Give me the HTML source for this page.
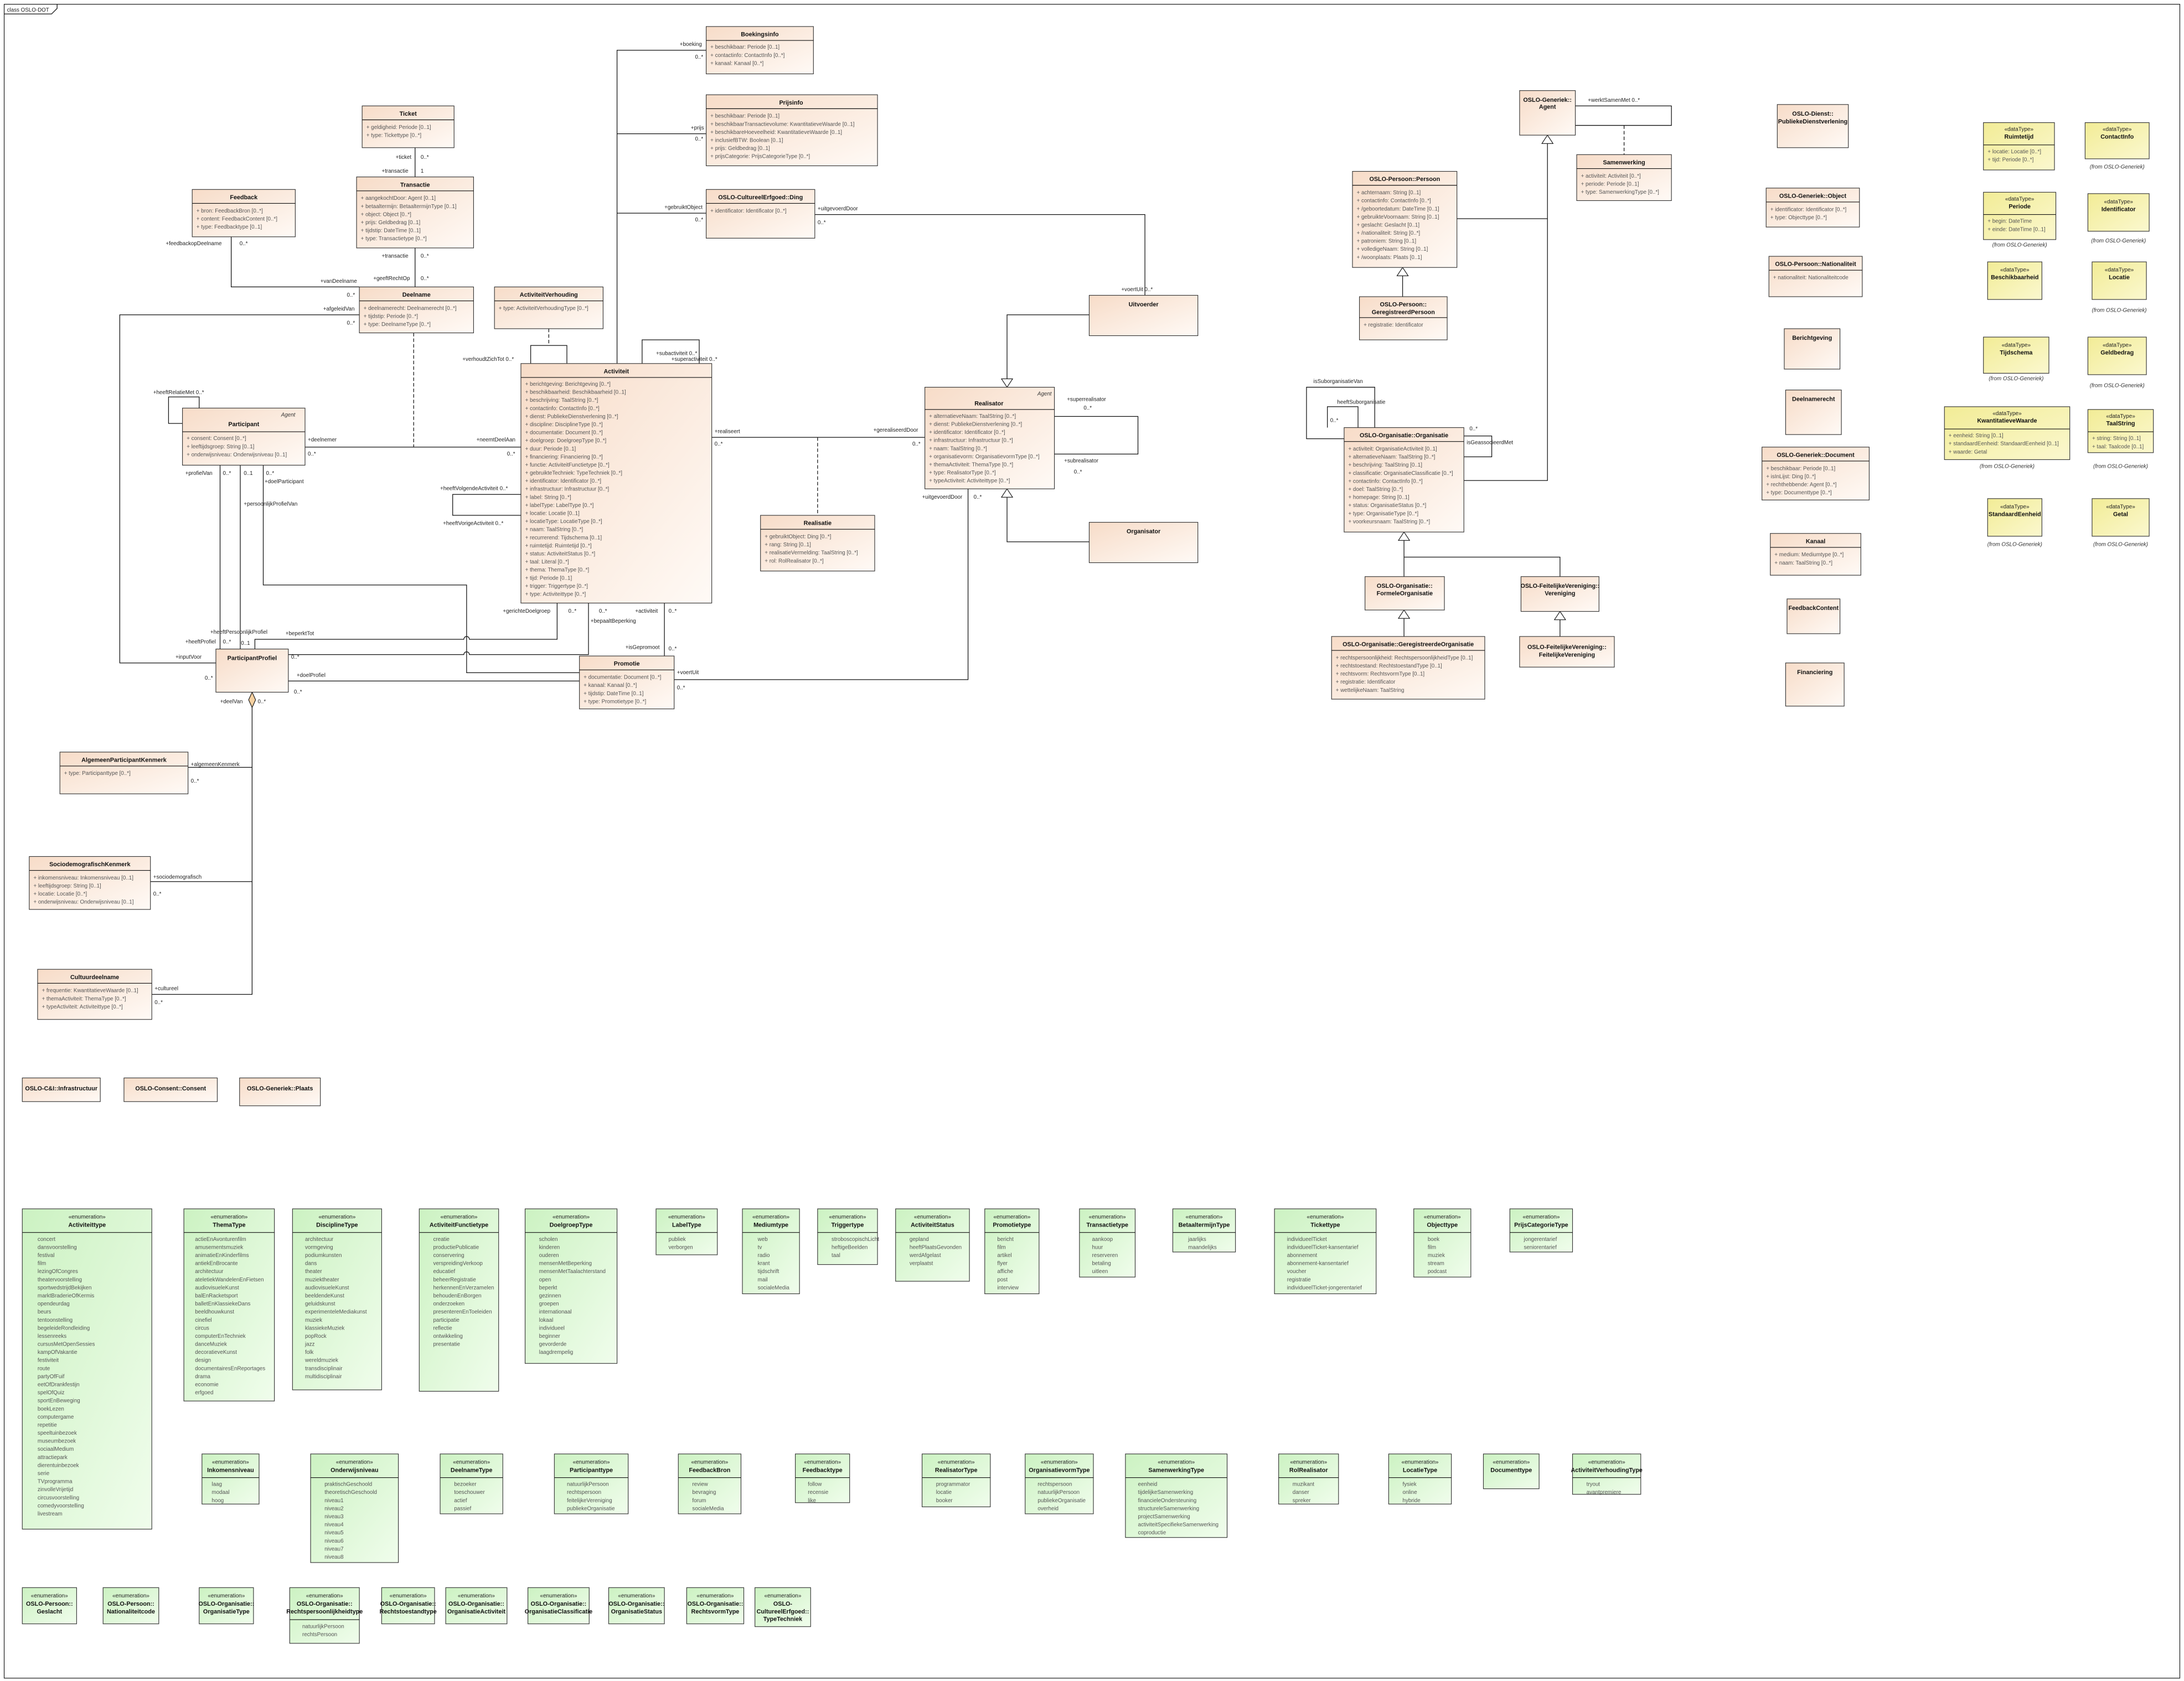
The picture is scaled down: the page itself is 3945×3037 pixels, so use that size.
<!DOCTYPE html>
<html><head><meta charset="utf-8"><style>
html,body{margin:0;padding:0;background:#fff}
svg{display:block}
.t{font:bold 4.3px "Liberation Sans",sans-serif;fill:#111;text-anchor:middle}
.s{font:4px "Liberation Sans",sans-serif;fill:#222;text-anchor:middle}
.a{font:3.9px "Liberation Sans",sans-serif;fill:#555}
.l{font:3.9px "Liberation Sans",sans-serif;fill:#222}
.f{font:italic 3.9px "Liberation Sans",sans-serif;fill:#333;text-anchor:middle}
.P{fill:url(#gP);stroke:#333;stroke-width:.45}
.G{fill:url(#gG);stroke:#333;stroke-width:.45}
.Y{fill:url(#gY);stroke:#333;stroke-width:.45}
.c{fill:none;stroke:#111;stroke-width:.5}
.d{fill:none;stroke:#111;stroke-width:.5;stroke-dasharray:2.5 1.5}
.h{stroke:#111;stroke-width:.45}
</style></head><body>
<svg width="3945" height="3037" viewBox="0 0 1568 1207" xmlns="http://www.w3.org/2000/svg">
<defs>
<linearGradient id="gP" x1="0" y1="0" x2="1" y2="1"><stop offset="0" stop-color="#f7dcc8"/><stop offset="1" stop-color="#fffaf6"/></linearGradient>
<linearGradient id="gG" x1="0" y1="0" x2="1" y2="1"><stop offset="0" stop-color="#ccf2c2"/><stop offset="1" stop-color="#f0fdec"/></linearGradient>
<linearGradient id="gY" x1="0" y1="0" x2="1" y2="1"><stop offset="0" stop-color="#f2ec96"/><stop offset="1" stop-color="#fbf8cf"/></linearGradient>
</defs>
<rect x="0" y="0" width="1568" height="1207" fill="#fff"/>
<!-- frame -->
<rect x="3" y="3" width="1562" height="1202" fill="none" stroke="#222" stroke-width=".5"/>
<path d="M3 10 H37 L41 6 V3" class="c"/>
<text class="l" x="5" y="8.3">class OSLO-DOT</text>

<!-- ===== connectors ===== -->
<path d="M443 261 V36 H507 M443 96 H507 M443 153 H507" class="c"/>
<text class="l" x="488" y="33">+boeking</text><text class="l" x="499" y="42">0..*</text>
<text class="l" x="496" y="93">+prijs</text><text class="l" x="499" y="101">0..*</text>
<text class="l" x="477" y="150">+gebruiktObject</text><text class="l" x="499" y="159">0..*</text>
<path d="M585 154 H822 V212" class="c"/>
<text class="l" x="587" y="151">+uitgevoerdDoor</text><text class="l" x="587" y="161">0..*</text>
<text class="l" x="805" y="209">+voertUit 0..*</text>
<path d="M782 226 H723 V272" class="c"/><path d="M723 278 L719 272 H727 Z" fill="#fff" class="h"/>
<path d="M782 389 H723 V357" class="c"/><path d="M723 351 L719 357 H727 Z" fill="#fff" class="h"/>
<!-- sub/super activiteit loop -->
<path d="M461 261 V244 H502 V261" class="c"/>
<text class="l" x="471" y="255">+subactiviteit 0..*</text><text class="l" x="482" y="259">+superactiviteit 0..*</text>
<!-- verhouding -->
<path d="M381 261 V248 H407 V261" class="c"/><path d="M394 236 V248" class="d"/>
<text class="l" x="332" y="259">+verhoudtZichTot 0..*</text>
<!-- Ticket/Transactie/Deelname -->
<path d="M298 106 V127 M298 178 V206" class="c"/>
<text class="l" x="284" y="114">+ticket</text><text class="l" x="302" y="114">0..*</text>
<text class="l" x="274" y="124">+transactie</text><text class="l" x="302" y="124">1</text>
<text class="l" x="274" y="185">+transactie</text><text class="l" x="302" y="185">0..*</text>
<text class="l" x="268" y="201">+geeftRechtOp</text><text class="l" x="302" y="201">0..*</text>
<path d="M166 170 V206 H258" class="c"/>
<text class="l" x="119" y="176">+feedbackopDeelname</text><text class="l" x="172" y="176">0..*</text>
<text class="l" x="230" y="203">+vanDeelname</text><text class="l" x="249" y="213">0..*</text>
<path d="M258 226 H86 V476 H155" class="c"/>
<text class="l" x="232" y="223">+afgeleidVan</text><text class="l" x="249" y="233">0..*</text>
<text class="l" x="126" y="473">+inputVoor</text><text class="l" x="147" y="488">0..*</text>
<!-- Participant - Activiteit -->
<path d="M219 321 H374" class="c"/><path d="M297 239 V321" class="d"/>
<text class="l" x="221" y="317">+deelnemer</text><text class="l" x="221" y="327">0..*</text>
<text class="l" x="342" y="317">+neemtDeelAan</text><text class="l" x="364" y="327">0..*</text>
<path d="M143 293 V285 H121 V304 H131" class="c"/>
<text class="l" x="110" y="283">+heeftRelatieMet 0..*</text>
<!-- Participant to PP -->
<path d="M158 334 V466 M172.5 334 V466" class="c"/>
<path d="M189 334 V420 H335 V483 H416" class="c"/>
<text class="l" x="133" y="341">+profielVan</text><text class="l" x="160" y="341">0..*</text><text class="l" x="175" y="341">0..1</text><text class="l" x="191" y="341">0..*</text>
<text class="l" x="190" y="347">+doelParticipant</text><text class="l" x="175" y="363">+persoonlijkProfielVan</text>
<text class="l" x="151" y="455">+heeftPersoonlijkProfiel</text><text class="l" x="133" y="462">+heeftProfiel</text>
<text class="l" x="160" y="462">0..*</text><text class="l" x="173" y="463">0..1</text>
<path d="M400 433 V459 H337 A2 2 0 0 0 333 459 H183 V466" class="c"/>
<text class="l" x="205" y="456">+beperktTot</text>
<path d="M422.5 433 V470 H337 A2 2 0 0 0 333 470 H207" class="c"/>
<text class="l" x="209" y="473">0..*</text>
<text class="l" x="361" y="440">+gerichteDoelgroep</text><text class="l" x="408" y="440">0..*</text>
<text class="l" x="430" y="440">0..*</text><text class="l" x="424" y="447">+bepaaltBeperking</text>
<path d="M477 433 V471" class="c"/>
<text class="l" x="456" y="440">+activiteit</text><text class="l" x="480" y="440">0..*</text>
<text class="l" x="449" y="466">+isGepromoot</text><text class="l" x="480" y="467">0..*</text>
<path d="M207 489 H416" class="c"/>
<text class="l" x="213" y="486">+doelProfiel</text><text class="l" x="211" y="498">0..*</text>
<path d="M484 488 H695 V351" class="c"/>
<text class="l" x="486" y="484">+voertUit</text><text class="l" x="486" y="495">0..*</text>
<text class="l" x="662" y="358">+uitgevoerdDoor</text><text class="l" x="699" y="358">0..*</text>
<path d="M374 355 H325 V370 H374" class="c"/>
<text class="l" x="316" y="352">+heeftVolgendeActiviteit 0..*</text><text class="l" x="318" y="377">+heeftVorigeActiviteit 0..*</text>
<!-- aggregation -->
<path d="M181 508 V714 H109 M181 551 H135 M181 633 H108" class="c"/>
<path d="M181 497 L178.5 502.5 L181 508 L183.5 502.5 Z" fill="#f5d0a0" class="h"/>
<text class="l" x="158" y="505">+deelVan</text><text class="l" x="185" y="505">0..*</text>
<text class="l" x="137" y="550">+algemeenKenmerk</text><text class="l" x="137" y="562">0..*</text>
<text class="l" x="110" y="631">+sociodemografisch</text><text class="l" x="110" y="643">0..*</text>
<text class="l" x="111" y="711">+cultureel</text><text class="l" x="111" y="721">0..*</text>
<!-- realiseert -->
<path d="M511 314 H664" class="c"/><path d="M587 314 V370" class="d"/>
<text class="l" x="513" y="311">+realiseert</text><text class="l" x="513" y="320">0..*</text>
<text class="l" x="627" y="310">+gerealiseerdDoor</text><text class="l" x="655" y="320">0..*</text>
<path d="M757 299 H817 V326 H757" class="c"/>
<text class="l" x="766" y="288">+superrealisator</text><text class="l" x="778" y="294">0..*</text>
<text class="l" x="764" y="332">+subrealisator</text><text class="l" x="771" y="340">0..*</text>
<!-- right side -->
<path d="M1046 157 H1111 V103 M1051 345 H1111 V157" class="c"/><path d="M1111 97 L1107 103 H1115 Z" fill="#fff" class="h"/>
<path d="M1131 76 H1200 V90 H1131" class="c"/><path d="M1166 90 V111" class="d"/>
<text class="l" x="1140" y="73">+werktSamenMet 0..*</text>
<path d="M1007 213 V198" class="c"/><path d="M1007 192 L1003 198 H1011 Z" fill="#fff" class="h"/>
<path d="M965 315 H938 V278 H987 V307 M953 307 V292 H975 V307" class="c"/>
<text class="l" x="943" y="275">isSuborganisatieVan</text><text class="l" x="960" y="290">heeftSuborganisatie</text><text class="l" x="955" y="303">0..*</text>
<path d="M1051 313 H1071 V328 H1051" class="c"/>
<text class="l" x="1055" y="309">0..*</text><text class="l" x="1053" y="319">isGeassocieerdMet</text>
<path d="M1008 414 V388 M1120 414 V400 H1008" class="c"/><path d="M1008 382 L1004 388 H1012 Z" fill="#fff" class="h"/>
<path d="M1008 457 V444" class="c"/><path d="M1008 438 L1004 444 H1012 Z" fill="#fff" class="h"/>
<path d="M1120 457 V445" class="c"/><path d="M1120 439 L1116 445 H1124 Z" fill="#fff" class="h"/>

<!-- ===== classes ===== -->
<rect x="507" y="19" width="77" height="34" class="P"/><line x1="507" y1="29" x2="584" y2="29" class="h"/>
<text class="t" x="545.5" y="26">Boekingsinfo</text>
<text class="a"><tspan x="510" y="35">+   beschikbaar: Periode [0..1]</tspan><tspan x="510" dy="5.8">+   contactinfo: ContactInfo [0..*]</tspan><tspan x="510" dy="5.8">+   kanaal: Kanaal [0..*]</tspan></text>

<rect x="507" y="68" width="123" height="51" class="P"/><line x1="507" y1="78" x2="630" y2="78" class="h"/>
<text class="t" x="568" y="75">Prijsinfo</text>
<text class="a"><tspan x="510" y="84.5">+   beschikbaar: Periode [0..1]</tspan><tspan x="510" dy="5.8">+   beschikbaarTransactievolume: KwantitatieveWaarde [0..1]</tspan><tspan x="510" dy="5.8">+   beschikbareHoeveelheid: KwantitatieveWaarde [0..1]</tspan><tspan x="510" dy="5.8">+   inclusiefBTW: Boolean [0..1]</tspan><tspan x="510" dy="5.8">+   prijs: Geldbedrag [0..1]</tspan><tspan x="510" dy="5.8">+   prijsCategorie: PrijsCategorieType [0..*]</tspan></text>

<rect x="507" y="136" width="78" height="35" class="P"/><line x1="507" y1="146" x2="585" y2="146" class="h"/>
<text class="t" x="546" y="143">OSLO-CultureelErfgoed::Ding</text>
<text class="a"><tspan x="510" y="152.5">+   identificator: Identificator [0..*]</tspan></text>

<rect x="260" y="76" width="66" height="30" class="P"/><line x1="260" y1="86" x2="326" y2="86" class="h"/>
<text class="t" x="293" y="83">Ticket</text>
<text class="a"><tspan x="263" y="92.5">+   geldigheid: Periode [0..1]</tspan><tspan x="263" dy="5.8">+   type: Tickettype [0..*]</tspan></text>

<rect x="256" y="127" width="84" height="51" class="P"/><line x1="256" y1="137" x2="340" y2="137" class="h"/>
<text class="t" x="298" y="134">Transactie</text>
<text class="a"><tspan x="259" y="143.5">+   aangekochtDoor: Agent [0..1]</tspan><tspan x="259" dy="5.8">+   betaaltermijn: BetaaltermijnType [0..1]</tspan><tspan x="259" dy="5.8">+   object: Object [0..*]</tspan><tspan x="259" dy="5.8">+   prijs: Geldbedrag [0..1]</tspan><tspan x="259" dy="5.8">+   tijdstip: DateTime [0..1]</tspan><tspan x="259" dy="5.8">+   type: Transactietype [0..*]</tspan></text>

<rect x="138" y="136" width="74" height="34" class="P"/><line x1="138" y1="146" x2="212" y2="146" class="h"/>
<text class="t" x="175" y="143">Feedback</text>
<text class="a"><tspan x="141" y="152.5">+   bron: FeedbackBron [0..*]</tspan><tspan x="141" dy="5.8">+   content: FeedbackContent [0..*]</tspan><tspan x="141" dy="5.8">+   type: Feedbacktype [0..1]</tspan></text>

<rect x="258" y="206" width="82" height="33" class="P"/><line x1="258" y1="216" x2="340" y2="216" class="h"/>
<text class="t" x="299" y="213">Deelname</text>
<text class="a"><tspan x="261" y="222.5">+   deelnamerecht: Deelnamerecht [0..*]</tspan><tspan x="261" dy="5.8">+   tijdstip: Periode [0..*]</tspan><tspan x="261" dy="5.8">+   type: DeelnameType [0..*]</tspan></text>

<rect x="355" y="206" width="78" height="30" class="P"/><line x1="355" y1="216" x2="433" y2="216" class="h"/>
<text class="t" x="394" y="213">ActiviteitVerhouding</text>
<text class="a"><tspan x="358" y="222.5">+   type: ActiviteitVerhoudingType [0..*]</tspan></text>

<rect x="374" y="261" width="137" height="172" class="P"/><line x1="374" y1="271" x2="511" y2="271" class="h"/>
<text class="t" x="442.5" y="268">Activiteit</text>
<text class="a"><tspan x="377" y="277">+   berichtgeving: Berichtgeving [0..*]</tspan><tspan x="377" dy="5.8">+   beschikbaarheid: Beschikbaarheid [0..1]</tspan><tspan x="377" dy="5.8">+   beschrijving: TaalString [0..*]</tspan><tspan x="377" dy="5.8">+   contactinfo: ContactInfo [0..*]</tspan><tspan x="377" dy="5.8">+   dienst: PubliekeDienstverlening [0..*]</tspan><tspan x="377" dy="5.8">+   discipline: DisciplineType [0..*]</tspan><tspan x="377" dy="5.8">+   documentatie: Document [0..*]</tspan><tspan x="377" dy="5.8">+   doelgroep: DoelgroepType [0..*]</tspan><tspan x="377" dy="5.8">+   duur: Periode [0..1]</tspan><tspan x="377" dy="5.8">+   financiering: Financiering [0..*]</tspan><tspan x="377" dy="5.8">+   functie: ActiviteitFunctietype [0..*]</tspan><tspan x="377" dy="5.8">+   gebruikteTechniek: TypeTechniek [0..*]</tspan><tspan x="377" dy="5.8">+   identificator: Identificator [0..*]</tspan><tspan x="377" dy="5.8">+   infrastructuur: Infrastructuur [0..*]</tspan><tspan x="377" dy="5.8">+   label: String [0..*]</tspan><tspan x="377" dy="5.8">+   labelType: LabelType [0..*]</tspan><tspan x="377" dy="5.8">+   locatie: Locatie [0..1]</tspan><tspan x="377" dy="5.8">+   locatieType: LocatieType [0..*]</tspan><tspan x="377" dy="5.8">+   naam: TaalString [0..*]</tspan><tspan x="377" dy="5.8">+   recurrerend: Tijdschema [0..1]</tspan><tspan x="377" dy="5.8">+   ruimtetijd: Ruimtetijd [0..*]</tspan><tspan x="377" dy="5.8">+   status: ActiviteitStatus [0..*]</tspan><tspan x="377" dy="5.8">+   taal: Literal [0..*]</tspan><tspan x="377" dy="5.8">+   thema: ThemaType [0..*]</tspan><tspan x="377" dy="5.8">+   tijd: Periode [0..1]</tspan><tspan x="377" dy="5.8">+   trigger: Triggertype [0..*]</tspan><tspan x="377" dy="5.8">+   type: Activiteittype [0..*]</tspan></text>

<rect x="131" y="293" width="88" height="41" class="P"/><line x1="131" y1="310" x2="219" y2="310" class="h"/>
<text class="f" x="212" y="299" style="text-anchor:end">Agent</text>
<text class="t" x="175" y="306">Participant</text>
<text class="a"><tspan x="134" y="316">+   consent: Consent [0..*]</tspan><tspan x="134" dy="5.8">+   leeftijdsgroep: String [0..1]</tspan><tspan x="134" dy="5.8">+   onderwijsniveau: Onderwijsniveau [0..1]</tspan></text>

<rect x="664" y="278" width="93" height="73" class="P"/><line x1="664" y1="294" x2="757" y2="294" class="h"/>
<text class="f" x="755" y="284" style="text-anchor:end">Agent</text>
<text class="t" x="710" y="291">Realisator</text>
<text class="a"><tspan x="667" y="300">+   alternatieveNaam: TaalString [0..*]</tspan><tspan x="667" dy="5.8">+   dienst: PubliekeDienstverlening [0..*]</tspan><tspan x="667" dy="5.8">+   identificator: Identificator [0..*]</tspan><tspan x="667" dy="5.8">+   infrastructuur: Infrastructuur [0..*]</tspan><tspan x="667" dy="5.8">+   naam: TaalString [0..*]</tspan><tspan x="667" dy="5.8">+   organisatievorm: OrganisatievormType [0..*]</tspan><tspan x="667" dy="5.8">+   themaActiviteit: ThemaType [0..*]</tspan><tspan x="667" dy="5.8">+   type: RealisatorType [0..*]</tspan><tspan x="667" dy="5.8">+   typeActiviteit: Activiteittype [0..*]</tspan></text>

<rect x="782" y="212" width="78" height="29" class="P"/><text class="t" x="821" y="220">Uitvoerder</text>
<rect x="782" y="375" width="78" height="29" class="P"/><text class="t" x="821" y="383">Organisator</text>

<rect x="546" y="370" width="82" height="40" class="P"/><line x1="546" y1="380" x2="628" y2="380" class="h"/>
<text class="t" x="587" y="377">Realisatie</text>
<text class="a"><tspan x="549" y="386.5">+   gebruiktObject: Ding [0..*]</tspan><tspan x="549" dy="5.8">+   rang: String [0..1]</tspan><tspan x="549" dy="5.8">+   realisatieVermelding: TaalString [0..*]</tspan><tspan x="549" dy="5.8">+   rol: RolRealisator [0..*]</tspan></text>

<rect x="155" y="466" width="52" height="31" class="P"/><text class="t" x="181" y="474">ParticipantProfiel</text>

<rect x="416" y="471" width="68" height="38" class="P"/><line x1="416" y1="481" x2="484" y2="481" class="h"/>
<text class="t" x="450" y="478">Promotie</text>
<text class="a"><tspan x="419" y="487.5">+   documentatie: Document [0..*]</tspan><tspan x="419" dy="5.8">+   kanaal: Kanaal [0..*]</tspan><tspan x="419" dy="5.8">+   tijdstip: DateTime [0..1]</tspan><tspan x="419" dy="5.8">+   type: Promotietype [0..*]</tspan></text>

<rect x="43" y="540" width="92" height="30" class="P"/><line x1="43" y1="550" x2="135" y2="550" class="h"/>
<text class="t" x="89" y="547">AlgemeenParticipantKenmerk</text>
<text class="a"><tspan x="46" y="556.5">+   type: Participanttype [0..*]</tspan></text>

<rect x="21" y="615" width="87" height="38" class="P"/><line x1="21" y1="625" x2="108" y2="625" class="h"/>
<text class="t" x="64.5" y="622">SociodemografischKenmerk</text>
<text class="a"><tspan x="24" y="631.5">+   inkomensniveau: Inkomensniveau [0..1]</tspan><tspan x="24" dy="5.8">+   leeftijdsgroep: String [0..1]</tspan><tspan x="24" dy="5.8">+   locatie: Locatie [0..*]</tspan><tspan x="24" dy="5.8">+   onderwijsniveau: Onderwijsniveau [0..1]</tspan></text>

<rect x="27" y="696" width="82" height="36" class="P"/><line x1="27" y1="706" x2="109" y2="706" class="h"/>
<text class="t" x="68" y="703">Cultuurdeelname</text>
<text class="a"><tspan x="30" y="712.5">+   frequentie: KwantitatieveWaarde [0..1]</tspan><tspan x="30" dy="5.8">+   themaActiviteit: ThemaType [0..*]</tspan><tspan x="30" dy="5.8">+   typeActiviteit: Activiteittype [0..*]</tspan></text>

<rect x="16" y="774" width="56" height="17" class="P"/><text class="t" x="44" y="783">OSLO-C&amp;I::Infrastructuur</text>
<rect x="89" y="774" width="67" height="17" class="P"/><text class="t" x="122.5" y="783">OSLO-Consent::Consent</text>
<rect x="172" y="774" width="58" height="20" class="P"/><text class="t" x="201" y="783">OSLO-Generiek::Plaats</text>

<!-- right classes -->
<rect x="1091" y="65" width="40" height="32" class="P"/><text class="t" x="1111" y="73">OSLO-Generiek::</text><text class="t" x="1111" y="78">Agent</text>
<rect x="1132" y="111" width="68" height="33" class="P"/><line x1="1132" y1="121" x2="1200" y2="121" class="h"/>
<text class="t" x="1166" y="118">Samenwerking</text>
<text class="a"><tspan x="1135" y="127.5">+   activiteit: Activiteit [0..*]</tspan><tspan x="1135" dy="5.8">+   periode: Periode [0..1]</tspan><tspan x="1135" dy="5.8">+   type: SamenwerkingType [0..*]</tspan></text>

<rect x="971" y="123" width="75" height="69" class="P"/><line x1="971" y1="133" x2="1046" y2="133" class="h"/>
<text class="t" x="1008.5" y="130">OSLO-Persoon::Persoon</text>
<text class="a"><tspan x="974" y="139.5">+   achternaam: String [0..1]</tspan><tspan x="974" dy="5.8">+   contactinfo: ContactInfo [0..*]</tspan><tspan x="974" dy="5.8">+   /geboortedatum: DateTime [0..1]</tspan><tspan x="974" dy="5.8">+   gebruikteVoornaam: String [0..1]</tspan><tspan x="974" dy="5.8">+   geslacht: Geslacht [0..1]</tspan><tspan x="974" dy="5.8">+   /nationaliteit: String [0..*]</tspan><tspan x="974" dy="5.8">+   patroniem: String [0..1]</tspan><tspan x="974" dy="5.8">+   volledigeNaam: String [0..1]</tspan><tspan x="974" dy="5.8">+   /woonplaats: Plaats [0..1]</tspan></text>

<rect x="976" y="213" width="63" height="31" class="P"/><line x1="976" y1="228" x2="1039" y2="228" class="h"/>
<text class="t" x="1007.5" y="220">OSLO-Persoon::</text><text class="t" x="1007.5" y="225.5">GeregistreerdPersoon</text>
<text class="a"><tspan x="979" y="234.5">+   registratie: Identificator</tspan></text>

<rect x="965" y="307" width="86" height="75" class="P"/><line x1="965" y1="317" x2="1051" y2="317" class="h"/>
<text class="t" x="1008" y="314">OSLO-Organisatie::Organisatie</text>
<text class="a"><tspan x="968" y="323.5">+   activiteit: OrganisatieActiviteit [0..1]</tspan><tspan x="968" dy="5.8">+   alternatieveNaam: TaalString [0..*]</tspan><tspan x="968" dy="5.8">+   beschrijving: TaalString [0..1]</tspan><tspan x="968" dy="5.8">+   classificatie: OrganisatieClassificatie [0..*]</tspan><tspan x="968" dy="5.8">+   contactinfo: ContactInfo [0..*]</tspan><tspan x="968" dy="5.8">+   doel: TaalString [0..*]</tspan><tspan x="968" dy="5.8">+   homepage: String [0..1]</tspan><tspan x="968" dy="5.8">+   status: OrganisatieStatus [0..*]</tspan><tspan x="968" dy="5.8">+   type: OrganisatieType [0..*]</tspan><tspan x="968" dy="5.8">+   voorkeursnaam: TaalString [0..*]</tspan></text>

<rect x="980" y="414" width="57" height="24" class="P"/><text class="t" x="1008.5" y="422">OSLO-Organisatie::</text><text class="t" x="1008.5" y="427.5">FormeleOrganisatie</text>
<rect x="1092" y="414" width="56" height="25" class="P"/><text class="t" x="1120" y="422">OSLO-FeitelijkeVereniging::</text><text class="t" x="1120" y="427.5">Vereniging</text>
<rect x="956" y="457" width="110" height="45" class="P"/><line x1="956" y1="467" x2="1066" y2="467" class="h"/>
<text class="t" x="1011" y="464">OSLO-Organisatie::GeregistreerdeOrganisatie</text>
<text class="a"><tspan x="959" y="473.5">+   rechtspersoonlijkheid: RechtspersoonlijkheidType [0..1]</tspan><tspan x="959" dy="5.8">+   rechtstoestand: RechtstoestandType [0..1]</tspan><tspan x="959" dy="5.8">+   rechtsvorm: RechtsvormType [0..1]</tspan><tspan x="959" dy="5.8">+   registratie: Identificator</tspan><tspan x="959" dy="5.8">+   wettelijkeNaam: TaalString</tspan></text>
<rect x="1091" y="457" width="68" height="22" class="P"/><text class="t" x="1125" y="466">OSLO-FeitelijkeVereniging::</text><text class="t" x="1125" y="471.5">FeitelijkeVereniging</text>

<rect x="1276" y="75" width="51" height="31" class="P"/><text class="t" x="1301.5" y="83">OSLO-Dienst::</text><text class="t" x="1301.5" y="88.5">PubliekeDienstverlening</text>
<rect x="1268" y="135" width="67" height="28" class="P"/><line x1="1268" y1="145" x2="1335" y2="145" class="h"/>
<text class="t" x="1301.5" y="142">OSLO-Generiek::Object</text>
<text class="a"><tspan x="1271" y="151.5">+   identificator: Identificator [0..*]</tspan><tspan x="1271" dy="5.8">+   type: Objecttype [0..*]</tspan></text>
<rect x="1270" y="184" width="67" height="29" class="P"/><line x1="1270" y1="194" x2="1337" y2="194" class="h"/>
<text class="t" x="1303.5" y="191">OSLO-Persoon::Nationaliteit</text>
<text class="a"><tspan x="1273" y="200.5">+   nationaliteit: Nationaliteitcode</tspan></text>
<rect x="1281" y="236" width="40" height="29" class="P"/><text class="t" x="1301" y="244">Berichtgeving</text>
<rect x="1282" y="280" width="40" height="32" class="P"/><text class="t" x="1302" y="288">Deelnamerecht</text>
<rect x="1265" y="321" width="77" height="38" class="P"/><line x1="1265" y1="331" x2="1342" y2="331" class="h"/>
<text class="t" x="1303.5" y="328">OSLO-Generiek::Document</text>
<text class="a"><tspan x="1268" y="337.5">+   beschikbaar: Periode [0..1]</tspan><tspan x="1268" dy="5.8">+   isInLijst: Ding [0..*]</tspan><tspan x="1268" dy="5.8">+   rechthebbende: Agent [0..*]</tspan><tspan x="1268" dy="5.8">+   type: Documenttype [0..*]</tspan></text>
<rect x="1271" y="383" width="65" height="30" class="P"/><line x1="1271" y1="393" x2="1336" y2="393" class="h"/>
<text class="t" x="1303.5" y="390">Kanaal</text>
<text class="a"><tspan x="1274" y="399.5">+   medium: Mediumtype [0..*]</tspan><tspan x="1274" dy="5.8">+   naam: TaalString [0..*]</tspan></text>
<rect x="1283" y="430" width="38" height="25" class="P"/><text class="t" x="1302" y="438">FeedbackContent</text>
<rect x="1282" y="476" width="42" height="31" class="P"/><text class="t" x="1303" y="484">Financiering</text>

<!-- dataTypes -->
<rect x="1424" y="88" width="51" height="34" class="Y"/><line x1="1424" y1="104" x2="1475" y2="104" class="h"/>
<text class="s" x="1449.5" y="94">«dataType»</text><text class="t" x="1449.5" y="99.5">Ruimtetijd</text>
<text class="a"><tspan x="1427" y="110">+   locatie: Locatie [0..*]</tspan><tspan x="1427" dy="5.8">+   tijd: Periode [0..*]</tspan></text>
<rect x="1497" y="88" width="46" height="26" class="Y"/><text class="s" x="1520" y="94">«dataType»</text><text class="t" x="1520" y="99.5">ContactInfo</text>
<text class="f" x="1520" y="121">(from OSLO-Generiek)</text>
<rect x="1424" y="138" width="52" height="34" class="Y"/><line x1="1424" y1="154" x2="1476" y2="154" class="h"/>
<text class="s" x="1450" y="144">«dataType»</text><text class="t" x="1450" y="149.5">Periode</text>
<text class="a"><tspan x="1427" y="160">+   begin: DateTime</tspan><tspan x="1427" dy="5.8">+   einde: DateTime [0..1]</tspan></text>
<text class="f" x="1450" y="177">(from OSLO-Generiek)</text>
<rect x="1499" y="139" width="44" height="27" class="Y"/><text class="s" x="1521" y="146">«dataType»</text><text class="t" x="1521" y="151.5">Identificator</text>
<text class="f" x="1521" y="174">(from OSLO-Generiek)</text>
<rect x="1427" y="188" width="39" height="27" class="Y"/><text class="s" x="1446.5" y="195">«dataType»</text><text class="t" x="1446.5" y="200.5">Beschikbaarheid</text>
<rect x="1502" y="188" width="39" height="27" class="Y"/><text class="s" x="1521.5" y="195">«dataType»</text><text class="t" x="1521.5" y="200.5">Locatie</text>
<text class="f" x="1521.5" y="224">(from OSLO-Generiek)</text>
<rect x="1424" y="242" width="47" height="26" class="Y"/><text class="s" x="1447.5" y="249">«dataType»</text><text class="t" x="1447.5" y="254.5">Tijdschema</text>
<text class="f" x="1447.5" y="273">(from OSLO-Generiek)</text>
<rect x="1499" y="242" width="42" height="27" class="Y"/><text class="s" x="1520" y="249">«dataType»</text><text class="t" x="1520" y="254.5">Geldbedrag</text>
<text class="f" x="1520" y="278">(from OSLO-Generiek)</text>
<rect x="1396" y="292" width="90" height="38" class="Y"/><line x1="1396" y1="308" x2="1486" y2="308" class="h"/>
<text class="s" x="1441" y="298">«dataType»</text><text class="t" x="1441" y="303.5">KwantitatieveWaarde</text>
<text class="a"><tspan x="1399" y="314">+   eenheid: String [0..1]</tspan><tspan x="1399" dy="5.8">+   standaardEenheid: StandaardEenheid [0..1]</tspan><tspan x="1399" dy="5.8">+   waarde: Getal</tspan></text>
<text class="f" x="1441" y="336">(from OSLO-Generiek)</text>
<rect x="1499" y="294" width="47" height="31" class="Y"/><line x1="1499" y1="310" x2="1546" y2="310" class="h"/>
<text class="s" x="1522.5" y="300">«dataType»</text><text class="t" x="1522.5" y="305.5">TaalString</text>
<text class="a"><tspan x="1502" y="316">+   string: String [0..1]</tspan><tspan x="1502" dy="5.8">+   taal: Taalcode [0..1]</tspan></text>
<text class="f" x="1522.5" y="336">(from OSLO-Generiek)</text>
<rect x="1427" y="358" width="39" height="27" class="Y"/><text class="s" x="1446.5" y="365">«dataType»</text><text class="t" x="1446.5" y="370.5">StandaardEenheid</text>
<text class="f" x="1446.5" y="392">(from OSLO-Generiek)</text>
<rect x="1502" y="358" width="41" height="27" class="Y"/><text class="s" x="1522.5" y="365">«dataType»</text><text class="t" x="1522.5" y="370.5">Getal</text>
<text class="f" x="1522.5" y="392">(from OSLO-Generiek)</text>

<!-- ===== enumerations row 1 ===== -->
<rect x="16" y="868" width="93" height="230" class="G"/><line x1="16" y1="885" x2="109" y2="885" class="h"/>
<text class="s" x="62.5" y="875">«enumeration»</text><text class="t" x="62.5" y="881">Activiteittype</text>
<text class="a"><tspan x="27" y="891">concert</tspan><tspan x="27" dy="5.8">dansvoorstelling</tspan><tspan x="27" dy="5.8">festival</tspan><tspan x="27" dy="5.8">film</tspan><tspan x="27" dy="5.8">lezingOfCongres</tspan><tspan x="27" dy="5.8">theatervoorstelling</tspan><tspan x="27" dy="5.8">sportwedstrijdBekijken</tspan><tspan x="27" dy="5.8">marktBraderieOfKermis</tspan><tspan x="27" dy="5.8">opendeurdag</tspan><tspan x="27" dy="5.8">beurs</tspan><tspan x="27" dy="5.8">tentoonstelling</tspan><tspan x="27" dy="5.8">begeleideRondleiding</tspan><tspan x="27" dy="5.8">lessenreeks</tspan><tspan x="27" dy="5.8">cursusMetOpenSessies</tspan><tspan x="27" dy="5.8">kampOfVakantie</tspan><tspan x="27" dy="5.8">festiviteit</tspan><tspan x="27" dy="5.8">route</tspan><tspan x="27" dy="5.8">partyOfFuif</tspan><tspan x="27" dy="5.8">eetOfDrankfestijn</tspan><tspan x="27" dy="5.8">spelOfQuiz</tspan><tspan x="27" dy="5.8">sportEnBeweging</tspan><tspan x="27" dy="5.8">boekLezen</tspan><tspan x="27" dy="5.8">computergame</tspan><tspan x="27" dy="5.8">repetitie</tspan><tspan x="27" dy="5.8">speeltuinbezoek</tspan><tspan x="27" dy="5.8">museumbezoek</tspan><tspan x="27" dy="5.8">sociaalMedium</tspan><tspan x="27" dy="5.8">attractiepark</tspan><tspan x="27" dy="5.8">dierentuinbezoek</tspan><tspan x="27" dy="5.8">serie</tspan><tspan x="27" dy="5.8">TVprogramma</tspan><tspan x="27" dy="5.8">zinvolleVrijetijd</tspan><tspan x="27" dy="5.8">circusvoorstelling</tspan><tspan x="27" dy="5.8">comedyvoorstelling</tspan><tspan x="27" dy="5.8">livestream</tspan></text>

<rect x="132" y="868" width="65" height="138" class="G"/><line x1="132" y1="885" x2="197" y2="885" class="h"/>
<text class="s" x="164.5" y="875">«enumeration»</text><text class="t" x="164.5" y="881">ThemaType</text>
<text class="a"><tspan x="140" y="891">actieEnAvonturenfilm</tspan><tspan x="140" dy="5.8">amusementsmuziek</tspan><tspan x="140" dy="5.8">animatieEnKinderfilms</tspan><tspan x="140" dy="5.8">antiekEnBrocante</tspan><tspan x="140" dy="5.8">architectuur</tspan><tspan x="140" dy="5.8">ateletiekWandelenEnFietsen</tspan><tspan x="140" dy="5.8">audiovisueleKunst</tspan><tspan x="140" dy="5.8">balEnRacketsport</tspan><tspan x="140" dy="5.8">balletEnKlassiekeDans</tspan><tspan x="140" dy="5.8">beeldhouwkunst</tspan><tspan x="140" dy="5.8">cinefiel</tspan><tspan x="140" dy="5.8">circus</tspan><tspan x="140" dy="5.8">computerEnTechniek</tspan><tspan x="140" dy="5.8">danceMuziek</tspan><tspan x="140" dy="5.8">decoratieveKunst</tspan><tspan x="140" dy="5.8">design</tspan><tspan x="140" dy="5.8">documentairesEnReportages</tspan><tspan x="140" dy="5.8">drama</tspan><tspan x="140" dy="5.8">economie</tspan><tspan x="140" dy="5.8">erfgoed</tspan></text>

<rect x="210" y="868" width="64" height="130" class="G"/><line x1="210" y1="885" x2="274" y2="885" class="h"/>
<text class="s" x="242" y="875">«enumeration»</text><text class="t" x="242" y="881">DisciplineType</text>
<text class="a"><tspan x="219" y="891">architectuur</tspan><tspan x="219" dy="5.8">vormgeving</tspan><tspan x="219" dy="5.8">podiumkunsten</tspan><tspan x="219" dy="5.8">dans</tspan><tspan x="219" dy="5.8">theater</tspan><tspan x="219" dy="5.8">muziektheater</tspan><tspan x="219" dy="5.8">audiovisueleKunst</tspan><tspan x="219" dy="5.8">beeldendeKunst</tspan><tspan x="219" dy="5.8">geluidskunst</tspan><tspan x="219" dy="5.8">experimenteleMediakunst</tspan><tspan x="219" dy="5.8">muziek</tspan><tspan x="219" dy="5.8">klassiekeMuziek</tspan><tspan x="219" dy="5.8">popRock</tspan><tspan x="219" dy="5.8">jazz</tspan><tspan x="219" dy="5.8">folk</tspan><tspan x="219" dy="5.8">wereldmuziek</tspan><tspan x="219" dy="5.8">transdisciplinair</tspan><tspan x="219" dy="5.8">multidisciplinair</tspan></text>

<rect x="301" y="868" width="57" height="131" class="G"/><line x1="301" y1="885" x2="358" y2="885" class="h"/>
<text class="s" x="329.5" y="875">«enumeration»</text><text class="t" x="329.5" y="881">ActiviteitFunctietype</text>
<text class="a"><tspan x="311" y="891">creatie</tspan><tspan x="311" dy="5.8">productiePublicatie</tspan><tspan x="311" dy="5.8">conservering</tspan><tspan x="311" dy="5.8">verspreidingVerkoop</tspan><tspan x="311" dy="5.8">educatief</tspan><tspan x="311" dy="5.8">beheerRegistratie</tspan><tspan x="311" dy="5.8">herkennenEnVerzamelen</tspan><tspan x="311" dy="5.8">behoudenEnBorgen</tspan><tspan x="311" dy="5.8">onderzoeken</tspan><tspan x="311" dy="5.8">presenterenEnToeleiden</tspan><tspan x="311" dy="5.8">participatie</tspan><tspan x="311" dy="5.8">reflectie</tspan><tspan x="311" dy="5.8">ontwikkeling</tspan><tspan x="311" dy="5.8">presentatie</tspan></text>

<rect x="377" y="868" width="66" height="111" class="G"/><line x1="377" y1="885" x2="443" y2="885" class="h"/>
<text class="s" x="410" y="875">«enumeration»</text><text class="t" x="410" y="881">DoelgroepType</text>
<text class="a"><tspan x="387" y="891">scholen</tspan><tspan x="387" dy="5.8">kinderen</tspan><tspan x="387" dy="5.8">ouderen</tspan><tspan x="387" dy="5.8">mensenMetBeperking</tspan><tspan x="387" dy="5.8">mensenMetTaalachterstand</tspan><tspan x="387" dy="5.8">open</tspan><tspan x="387" dy="5.8">beperkt</tspan><tspan x="387" dy="5.8">gezinnen</tspan><tspan x="387" dy="5.8">groepen</tspan><tspan x="387" dy="5.8">internationaal</tspan><tspan x="387" dy="5.8">lokaal</tspan><tspan x="387" dy="5.8">individueel</tspan><tspan x="387" dy="5.8">beginner</tspan><tspan x="387" dy="5.8">gevorderde</tspan><tspan x="387" dy="5.8">laagdrempelig</tspan></text>

<rect x="471" y="868" width="44" height="33" class="G"/><line x1="471" y1="885" x2="515" y2="885" class="h"/>
<text class="s" x="493" y="875">«enumeration»</text><text class="t" x="493" y="881">LabelType</text>
<text class="a"><tspan x="480" y="891">publiek</tspan><tspan x="480" dy="5.8">verborgen</tspan></text>

<rect x="533" y="868" width="41" height="61" class="G"/><line x1="533" y1="885" x2="574" y2="885" class="h"/>
<text class="s" x="553.5" y="875">«enumeration»</text><text class="t" x="553.5" y="881">Mediumtype</text>
<text class="a"><tspan x="544" y="891">web</tspan><tspan x="544" dy="5.8">tv</tspan><tspan x="544" dy="5.8">radio</tspan><tspan x="544" dy="5.8">krant</tspan><tspan x="544" dy="5.8">tijdschrift</tspan><tspan x="544" dy="5.8">mail</tspan><tspan x="544" dy="5.8">socialeMedia</tspan></text>

<rect x="587" y="868" width="43" height="40" class="G"/><line x1="587" y1="885" x2="630" y2="885" class="h"/>
<text class="s" x="608.5" y="875">«enumeration»</text><text class="t" x="608.5" y="881">Triggertype</text>
<text class="a"><tspan x="597" y="891">stroboscopischLicht</tspan><tspan x="597" dy="5.8">heftigeBeelden</tspan><tspan x="597" dy="5.8">taal</tspan></text>

<rect x="643" y="868" width="53" height="52" class="G"/><line x1="643" y1="885" x2="696" y2="885" class="h"/>
<text class="s" x="669.5" y="875">«enumeration»</text><text class="t" x="669.5" y="881">ActiviteitStatus</text>
<text class="a"><tspan x="653" y="891">gepland</tspan><tspan x="653" dy="5.8">heeftPlaatsGevonden</tspan><tspan x="653" dy="5.8">werdAfgelast</tspan><tspan x="653" dy="5.8">verplaatst</tspan></text>

<rect x="707" y="868" width="39" height="61" class="G"/><line x1="707" y1="885" x2="746" y2="885" class="h"/>
<text class="s" x="726.5" y="875">«enumeration»</text><text class="t" x="726.5" y="881">Promotietype</text>
<text class="a"><tspan x="716" y="891">bericht</tspan><tspan x="716" dy="5.8">film</tspan><tspan x="716" dy="5.8">artikel</tspan><tspan x="716" dy="5.8">flyer</tspan><tspan x="716" dy="5.8">affiche</tspan><tspan x="716" dy="5.8">post</tspan><tspan x="716" dy="5.8">interview</tspan></text>

<rect x="775" y="868" width="40" height="49" class="G"/><line x1="775" y1="885" x2="815" y2="885" class="h"/>
<text class="s" x="795" y="875">«enumeration»</text><text class="t" x="795" y="881">Transactietype</text>
<text class="a"><tspan x="784" y="891">aankoop</tspan><tspan x="784" dy="5.8">huur</tspan><tspan x="784" dy="5.8">reserveren</tspan><tspan x="784" dy="5.8">betaling</tspan><tspan x="784" dy="5.8">uitleen</tspan></text>

<rect x="842" y="868" width="45" height="31" class="G"/><line x1="842" y1="885" x2="887" y2="885" class="h"/>
<text class="s" x="864.5" y="875">«enumeration»</text><text class="t" x="864.5" y="881">BetaaltermijnType</text>
<text class="a"><tspan x="853" y="891">jaarlijks</tspan><tspan x="853" dy="5.8">maandelijks</tspan></text>

<rect x="915" y="868" width="73" height="61" class="G"/><line x1="915" y1="885" x2="988" y2="885" class="h"/>
<text class="s" x="951.5" y="875">«enumeration»</text><text class="t" x="951.5" y="881">Tickettype</text>
<text class="a"><tspan x="924" y="891">individueelTicket</tspan><tspan x="924" dy="5.8">individueelTicket-kansentarief</tspan><tspan x="924" dy="5.8">abonnement</tspan><tspan x="924" dy="5.8">abonnement-kansentarief</tspan><tspan x="924" dy="5.8">voucher</tspan><tspan x="924" dy="5.8">registratie</tspan><tspan x="924" dy="5.8">individueelTicket-jongerentarief</tspan></text>

<rect x="1015" y="868" width="41" height="49" class="G"/><line x1="1015" y1="885" x2="1056" y2="885" class="h"/>
<text class="s" x="1035.5" y="875">«enumeration»</text><text class="t" x="1035.5" y="881">Objecttype</text>
<text class="a"><tspan x="1025" y="891">boek</tspan><tspan x="1025" dy="5.8">film</tspan><tspan x="1025" dy="5.8">muziek</tspan><tspan x="1025" dy="5.8">stream</tspan><tspan x="1025" dy="5.8">podcast</tspan></text>

<rect x="1084" y="868" width="45" height="31" class="G"/><line x1="1084" y1="885" x2="1129" y2="885" class="h"/>
<text class="s" x="1106.5" y="875">«enumeration»</text><text class="t" x="1106.5" y="881">PrijsCategorieType</text>
<text class="a"><tspan x="1094" y="891">jongerentarief</tspan><tspan x="1094" dy="5.8">seniorentarief</tspan></text>

<!-- row 2 -->
<rect x="145" y="1044" width="41" height="36" class="G"/><line x1="145" y1="1061" x2="186" y2="1061" class="h"/>
<text class="s" x="165.5" y="1051">«enumeration»</text><text class="t" x="165.5" y="1057">Inkomensniveau</text>
<text class="a"><tspan x="152" y="1067">laag</tspan><tspan x="152" dy="5.8">modaal</tspan><tspan x="152" dy="5.8">hoog</tspan></text>

<rect x="223" y="1044" width="63" height="78" class="G"/><line x1="223" y1="1061" x2="286" y2="1061" class="h"/>
<text class="s" x="254.5" y="1051">«enumeration»</text><text class="t" x="254.5" y="1057">Onderwijsniveau</text>
<text class="a"><tspan x="233" y="1067">praktischGeschoold</tspan><tspan x="233" dy="5.8">theoretischGeschoold</tspan><tspan x="233" dy="5.8">niveau1</tspan><tspan x="233" dy="5.8">niveau2</tspan><tspan x="233" dy="5.8">niveau3</tspan><tspan x="233" dy="5.8">niveau4</tspan><tspan x="233" dy="5.8">niveau5</tspan><tspan x="233" dy="5.8">niveau6</tspan><tspan x="233" dy="5.8">niveau7</tspan><tspan x="233" dy="5.8">niveau8</tspan></text>

<rect x="316" y="1044" width="45" height="43" class="G"/><line x1="316" y1="1061" x2="361" y2="1061" class="h"/>
<text class="s" x="338.5" y="1051">«enumeration»</text><text class="t" x="338.5" y="1057">DeelnameType</text>
<text class="a"><tspan x="326" y="1067">bezoeker</tspan><tspan x="326" dy="5.8">toeschouwer</tspan><tspan x="326" dy="5.8">actief</tspan><tspan x="326" dy="5.8">passief</tspan></text>

<rect x="398" y="1044" width="53" height="43" class="G"/><line x1="398" y1="1061" x2="451" y2="1061" class="h"/>
<text class="s" x="424.5" y="1051">«enumeration»</text><text class="t" x="424.5" y="1057">Participanttype</text>
<text class="a"><tspan x="407" y="1067">natuurlijkPersoon</tspan><tspan x="407" dy="5.8">rechtspersoon</tspan><tspan x="407" dy="5.8">feitelijkeVereniging</tspan><tspan x="407" dy="5.8">publiekeOrganisatie</tspan></text>

<rect x="487" y="1044" width="45" height="43" class="G"/><line x1="487" y1="1061" x2="532" y2="1061" class="h"/>
<text class="s" x="509.5" y="1051">«enumeration»</text><text class="t" x="509.5" y="1057">FeedbackBron</text>
<text class="a"><tspan x="497" y="1067">review</tspan><tspan x="497" dy="5.8">bevraging</tspan><tspan x="497" dy="5.8">forum</tspan><tspan x="497" dy="5.8">socialeMedia</tspan></text>

<rect x="571" y="1044" width="39" height="35" class="G"/><line x1="571" y1="1061" x2="610" y2="1061" class="h"/>
<text class="s" x="590.5" y="1051">«enumeration»</text><text class="t" x="590.5" y="1057">Feedbacktype</text>
<text class="a"><tspan x="580" y="1067">follow</tspan><tspan x="580" dy="5.8">recensie</tspan><tspan x="580" dy="5.8">like</tspan></text>

<rect x="662" y="1044" width="49" height="38" class="G"/><line x1="662" y1="1061" x2="711" y2="1061" class="h"/>
<text class="s" x="686.5" y="1051">«enumeration»</text><text class="t" x="686.5" y="1057">RealisatorType</text>
<text class="a"><tspan x="672" y="1067">programmator</tspan><tspan x="672" dy="5.8">locatie</tspan><tspan x="672" dy="5.8">booker</tspan></text>

<rect x="736" y="1044" width="49" height="43" class="G"/><line x1="736" y1="1061" x2="785" y2="1061" class="h"/>
<text class="s" x="760.5" y="1051">«enumeration»</text><text class="t" x="760.5" y="1057">OrganisatievormType</text>
<text class="a"><tspan x="745" y="1067">rechtspersoon</tspan><tspan x="745" dy="5.8">natuurlijkPersoon</tspan><tspan x="745" dy="5.8">publiekeOrganisatie</tspan><tspan x="745" dy="5.8">overheid</tspan></text>

<rect x="808" y="1044" width="73" height="60" class="G"/><line x1="808" y1="1061" x2="881" y2="1061" class="h"/>
<text class="s" x="844.5" y="1051">«enumeration»</text><text class="t" x="844.5" y="1057">SamenwerkingType</text>
<text class="a"><tspan x="817" y="1067">eenheid</tspan><tspan x="817" dy="5.8">tijdelijkeSamenwerking</tspan><tspan x="817" dy="5.8">financieleOndersteuning</tspan><tspan x="817" dy="5.8">structureleSamenwerking</tspan><tspan x="817" dy="5.8">projectSamenwerking</tspan><tspan x="817" dy="5.8">activiteitSpecifiekeSamenwerking</tspan><tspan x="817" dy="5.8">coproductie</tspan></text>

<rect x="918" y="1044" width="43" height="36" class="G"/><line x1="918" y1="1061" x2="961" y2="1061" class="h"/>
<text class="s" x="939.5" y="1051">«enumeration»</text><text class="t" x="939.5" y="1057">RolRealisator</text>
<text class="a"><tspan x="928" y="1067">muzikant</tspan><tspan x="928" dy="5.8">danser</tspan><tspan x="928" dy="5.8">spreker</tspan></text>

<rect x="997" y="1044" width="45" height="36" class="G"/><line x1="997" y1="1061" x2="1042" y2="1061" class="h"/>
<text class="s" x="1019.5" y="1051">«enumeration»</text><text class="t" x="1019.5" y="1057">LocatieType</text>
<text class="a"><tspan x="1007" y="1067">fysiek</tspan><tspan x="1007" dy="5.8">online</tspan><tspan x="1007" dy="5.8">hybride</tspan></text>

<rect x="1065" y="1044" width="40" height="25" class="G"/>
<text class="s" x="1085" y="1051">«enumeration»</text><text class="t" x="1085" y="1057">Documenttype</text>

<rect x="1129" y="1044" width="49" height="29" class="G"/><line x1="1129" y1="1061" x2="1178" y2="1061" class="h"/>
<text class="s" x="1153.5" y="1051">«enumeration»</text><text class="t" x="1153.5" y="1057">ActiviteitVerhoudingType</text>
<text class="a"><tspan x="1139" y="1067">tryout</tspan><tspan x="1139" dy="5.8">avantpremiere</tspan></text>

<!-- row 3 -->
<rect x="16" y="1140" width="39" height="26" class="G"/><text class="s" x="35.5" y="1147">«enumeration»</text><text class="t" x="35.5" y="1153">OSLO-Persoon::</text><text class="t" x="35.5" y="1158.5">Geslacht</text>
<rect x="74" y="1140" width="40" height="26" class="G"/><text class="s" x="94" y="1147">«enumeration»</text><text class="t" x="94" y="1153">OSLO-Persoon::</text><text class="t" x="94" y="1158.5">Nationaliteitcode</text>
<rect x="143" y="1140" width="39" height="26" class="G"/><text class="s" x="162.5" y="1147">«enumeration»</text><text class="t" x="162.5" y="1153">OSLO-Organisatie::</text><text class="t" x="162.5" y="1158.5">OrganisatieType</text>
<rect x="208" y="1140" width="50" height="40" class="G"/><line x1="208" y1="1163" x2="258" y2="1163" class="h"/><text class="s" x="233" y="1147">«enumeration»</text><text class="t" x="233" y="1153">OSLO-Organisatie::</text><text class="t" x="233" y="1158.5">Rechtspersoonlijkheidtype</text>
<text class="a"><tspan x="217" y="1169">natuurlijkPersoon</tspan><tspan x="217" dy="5.8">rechtsPersoon</tspan></text>
<rect x="274" y="1140" width="38" height="26" class="G"/><text class="s" x="293" y="1147">«enumeration»</text><text class="t" x="293" y="1153">OSLO-Organisatie::</text><text class="t" x="293" y="1158.5">Rechtstoestandtype</text>
<rect x="320" y="1140" width="44" height="26" class="G"/><text class="s" x="342" y="1147">«enumeration»</text><text class="t" x="342" y="1153">OSLO-Organisatie::</text><text class="t" x="342" y="1158.5">OrganisatieActiviteit</text>
<rect x="379" y="1140" width="44" height="26" class="G"/><text class="s" x="401" y="1147">«enumeration»</text><text class="t" x="401" y="1153">OSLO-Organisatie::</text><text class="t" x="401" y="1158.5">OrganisatieClassificatie</text>
<rect x="437" y="1140" width="40" height="26" class="G"/><text class="s" x="457" y="1147">«enumeration»</text><text class="t" x="457" y="1153">OSLO-Organisatie::</text><text class="t" x="457" y="1158.5">OrganisatieStatus</text>
<rect x="493" y="1140" width="41" height="26" class="G"/><text class="s" x="513.5" y="1147">«enumeration»</text><text class="t" x="513.5" y="1153">OSLO-Organisatie::</text><text class="t" x="513.5" y="1158.5">RechtsvormType</text>
<rect x="542" y="1140" width="40" height="28" class="G"/><text class="s" x="562" y="1147">«enumeration»</text><text class="t" x="562" y="1153">OSLO-</text><text class="t" x="562" y="1158.5">CultureelErfgoed::</text><text class="t" x="562" y="1164">TypeTechniek</text>
</svg>
</body></html>
